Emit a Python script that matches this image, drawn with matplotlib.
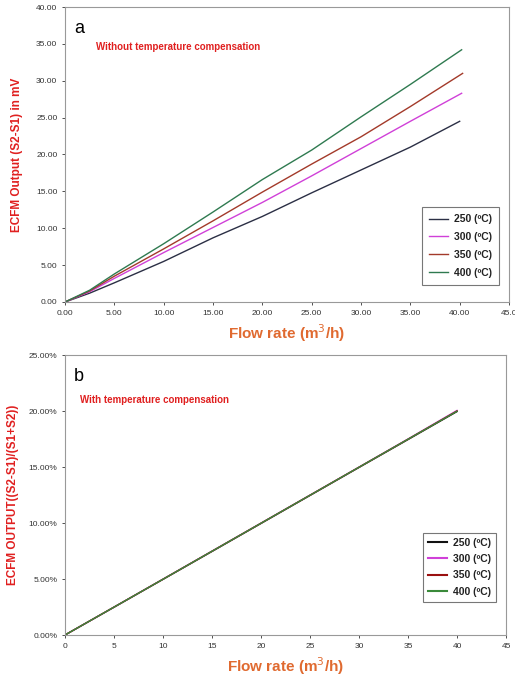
import matplotlib
matplotlib.use("Agg")
import matplotlib.pyplot as plt
from matplotlib.ticker import FuncFormatter

plt.rcParams['font.family'] = ['Liberation Sans', 'DejaVu Sans']

labels = ["250 (ºC)", "300 (ºC)", "350 (ºC)", "400 (ºC)"]

# Panel a: without temperature compensation (mV)
flow_a = [0, 2.5, 5, 10, 15, 20, 25, 30, 35, 40]
out_250 = [0, 1.2, 2.6, 5.5, 8.7, 11.6, 14.8, 17.9, 21.0, 24.5]
flow_300 = [0, 2.5, 5, 10, 15, 20, 25, 30, 35, 40.2]
out_300 = [0, 1.4, 3.2, 6.7, 10.1, 13.5, 17.1, 20.8, 24.5, 28.3]
flow_350 = [0, 2.5, 5, 10, 15, 20, 25, 30, 35, 40.3]
out_350 = [0, 1.5, 3.5, 7.2, 11.0, 14.9, 18.7, 22.4, 26.5, 31.0]
flow_400 = [0, 2.5, 5, 10, 15, 20, 25, 30, 35, 40.2]
out_400 = [0, 1.6, 3.8, 7.9, 12.2, 16.6, 20.6, 25.1, 29.5, 34.2]

# Panel b: with temperature compensation (fraction)
flow_b = [0, 5, 10, 15, 20, 25, 30, 35, 40]
comp_250 = [0, 0.0248, 0.0497, 0.0746, 0.0996, 0.1246, 0.1496, 0.1745, 0.1995]
comp_300 = [0, 0.0249, 0.0499, 0.0749, 0.0999, 0.1249, 0.1499, 0.1750, 0.2005]
comp_350 = [0, 0.0249, 0.0498, 0.0748, 0.0998, 0.1248, 0.1498, 0.1748, 0.2000]
comp_400 = [0, 0.0249, 0.0498, 0.0748, 0.0998, 0.1248, 0.1498, 0.1748, 0.1998]

colors_a = ["#2b2f45", "#d040d8", "#a33a2a", "#2f7a50"]
colors_b = ["#111111", "#d040d8", "#9a1010", "#3a8a3a"]

red = "#e02020"
orange = "#e06a30"
frame = "#999999"

fig = plt.figure(figsize=(5.15, 6.83), dpi=100)

def style_axes(ax):
    for s in ax.spines.values():
        s.set_color(frame)
        s.set_linewidth(0.8)
    ax.tick_params(axis='both', labelsize=6, colors="#333333", length=2, width=0.6)
    for lab in ax.get_xticklabels() + ax.get_yticklabels():
        lab.set_color("#333333")

W, H = 515, 683
# Panel a
axa = fig.add_axes([65 / W, 1 - 302 / H, (509 - 65) / W, (302 - 7) / H])
series_a = [(flow_a, out_250), (flow_300, out_300), (flow_350, out_350), (flow_400, out_400)]
for (x, y), c, l in zip(series_a, colors_a, labels):
    axa.plot(x, y, color=c, lw=1.0, label=l)
axa.set_xlim(0, 45)
axa.set_ylim(0, 40)
axa.set_xticks([0, 5, 10, 15, 20, 25, 30, 35, 40, 45])
axa.set_yticks([0, 5, 10, 15, 20, 25, 30, 35, 40])
axa.xaxis.set_major_formatter(FuncFormatter(lambda v, p: f"{v:.2f}" if v < 44 else "45.0"))
axa.yaxis.set_major_formatter(FuncFormatter(lambda v, p: f"{v:.2f}"))
style_axes(axa)
axa.set_ylabel("ECFM Output (S2-S1) in mV", color=red, fontsize=8.5, fontweight='bold', labelpad=9)
axa.set_xlabel("Flow rate (m$^3$/h)", color=orange, fontsize=11, fontweight='bold', labelpad=4)
axa.text(0.02, 0.955, "a", transform=axa.transAxes, fontsize=13, va='top', ha='left')
axa.text(0.07, 0.865, "Without temperature compensation", transform=axa.transAxes,
         fontsize=7, color=red, fontweight='bold', va='center', ha='left')
leg = axa.legend(loc='lower right', bbox_to_anchor=(0.99, 0.04), fontsize=7.5, frameon=True,
                 fancybox=False, edgecolor="#555555", handlelength=1.8, labelspacing=0.75,
                 borderpad=0.7, handletextpad=0.6)
leg.get_frame().set_linewidth(0.8)
for t in leg.get_texts():
    t.set_fontweight('bold')
    t.set_color("#222222")

# Panel b
axb = fig.add_axes([65 / W, 1 - 635 / H, (506 - 65) / W, (635 - 355) / H])
series_b = [comp_250, comp_300, comp_350, comp_400]
for y, c, l in zip(series_b, colors_b, labels):
    axb.plot(flow_b, y, color=c, lw=1.0, label=l)
axb.set_xlim(0, 45)
axb.set_ylim(0, 0.25)
axb.set_xticks([0, 5, 10, 15, 20, 25, 30, 35, 40, 45])
axb.set_yticks([0, 0.05, 0.10, 0.15, 0.20, 0.25])
axb.yaxis.set_major_formatter(FuncFormatter(lambda v, p: f"{v*100:.2f}%"))
style_axes(axb)
axb.set_ylabel("ECFM OUTPUT((S2-S1)/(S1+S2))", color=red, fontsize=8.5, fontweight='bold', labelpad=7)
axb.set_xlabel("Flow rate (m$^3$/h)", color=orange, fontsize=11, fontweight='bold', labelpad=4)
axb.text(0.02, 0.955, "b", transform=axb.transAxes, fontsize=13, va='top', ha='left')
axb.text(0.035, 0.84, "With temperature compensation", transform=axb.transAxes,
         fontsize=7, color=red, fontweight='bold', va='center', ha='left')
legb = axb.legend(loc='lower right', bbox_to_anchor=(0.99, 0.10), fontsize=7.5, frameon=True,
                  fancybox=False, edgecolor="#555555", handlelength=1.8, labelspacing=0.6,
                  borderpad=0.5, handletextpad=0.6)
legb.get_frame().set_linewidth(0.8)
for t in legb.get_texts():
    t.set_fontweight('bold')
    t.set_color("#222222")
for line, c in zip(legb.get_lines(), colors_b):
    line.set_linewidth(1.5)

fig.savefig("out.png", dpi=100)
